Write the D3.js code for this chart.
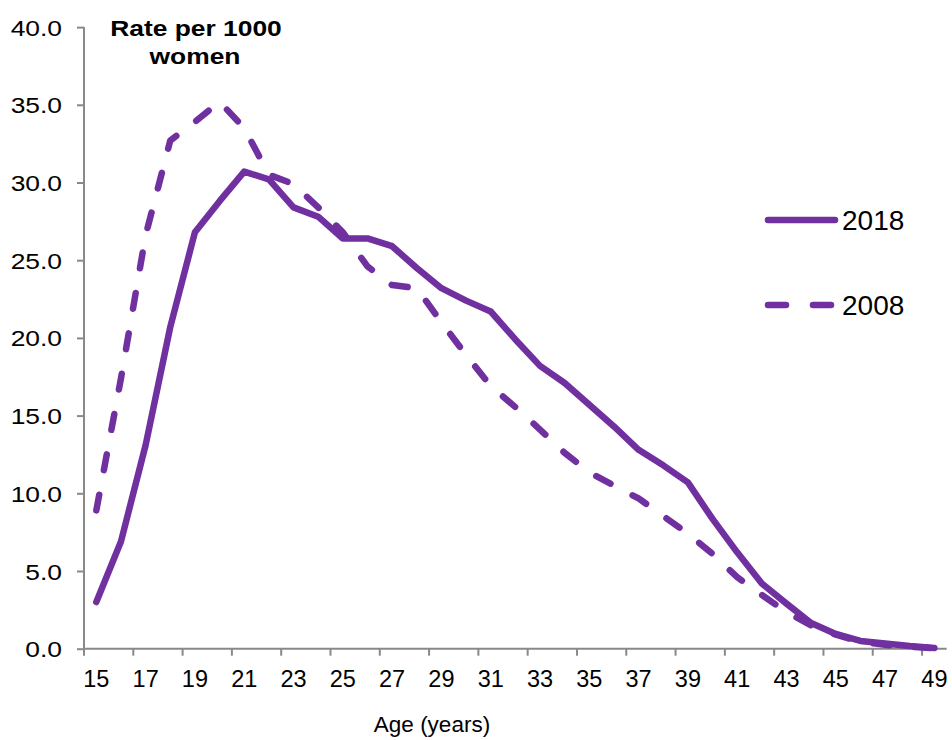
<!DOCTYPE html>
<html>
<head>
<meta charset="utf-8">
<script src="https://cdn.jsdelivr.net/npm/d3@7"></script>
<style>
  html, body { margin: 0; padding: 0; background: #fff; }
  svg { display: block; }
  text { font-family: "Liberation Sans", Arial, sans-serif; fill: #000; }
</style>
</head>
<body>
<svg id="chart" width="952" height="740"></svg>
<script>
const ages = [15,16,17,18,19,20,21,22,23,24,25,26,27,28,29,30,31,32,33,34,35,36,37,38,39,40,41,42,43,44,45,46,47,48,49];
const rate2018 = [3.0,6.9,13.1,20.7,26.8,28.8,30.7,30.2,28.4,27.8,26.4,26.4,25.9,24.5,23.2,22.4,21.7,19.9,18.2,17.1,15.7,14.3,12.8,11.8,10.7,8.35,6.2,4.2,2.9,1.65,0.95,0.5,0.33,0.17,0.05];
const rate2008 = [8.9,17.4,26.6,32.7,33.9,35.2,33.5,30.5,29.9,28.4,26.8,24.6,23.4,23.2,21.0,18.9,16.9,15.55,14.1,12.6,11.35,10.5,9.67,8.54,7.41,6.1,4.6,3.46,2.36,1.5,0.9,0.45,0.25,0.12,0.04];
const xTickLabels = [15,17,19,21,23,25,27,29,31,33,35,37,39,41,43,45,47,49];
const yTicks = [0,5,10,15,20,25,30,35,40];
const seriesNames = ["2018","2008"];
const yTitle = ["Rate per 1000","women"];
const xTitle = "Age (years)";

const purple = "#7030A0";
const axisGrey = "#898989";

const svg = d3.select("#chart");
const pLeft = 84, pRight = 946.7, pTop = 27.1, pBottom = 648.7;

const x = d3.scaleBand().domain(ages).range([pLeft, pRight]).padding(0);
const y = d3.scaleLinear().domain([0, 40]).range([pBottom, pTop]);
const cx = d => x(d) + x.bandwidth() / 2;

// Y axis
const yAxis = svg.append("g")
  .attr("transform", `translate(${pLeft},0)`)
  .call(d3.axisLeft(y).tickValues(yTicks).tickFormat(d3.format(".1f")).tickSize(7).tickPadding(0));
yAxis.select(".domain").attr("stroke", axisGrey).attr("stroke-width", 2).attr("d", `M0,${pTop}V${pBottom}`);
yAxis.selectAll(".tick line").attr("stroke", axisGrey).attr("stroke-width", 2);
yAxis.selectAll(".tick text")
  .attr("x", null).attr("dy", null)
  .attr("text-anchor", "end")
  .style("font-size", "22px")
  .attr("transform", "translate(-22,8) scale(1.2,1)");

// X axis
const xAxis = svg.append("g")
  .attr("transform", `translate(0,${pBottom})`)
  .call(d3.axisBottom(x).tickValues(xTickLabels).tickSize(7).tickPadding(0));
xAxis.select(".domain").attr("stroke", axisGrey).attr("stroke-width", 2).attr("d", `M${pLeft},0H${pRight}`);
xAxis.selectAll(".tick line").attr("stroke", axisGrey).attr("stroke-width", 2)
  .attr("x1", -x.bandwidth() / 2).attr("x2", -x.bandwidth() / 2);
xAxis.selectAll(".tick text")
  .attr("y", 38).attr("dy", null)
  .style("font-size", "23.5px");

// Lines
const line = d3.line().x((d, i) => cx(ages[i])).y(d => y(d));
svg.append("path").datum(rate2008)
  .attr("d", line).attr("fill", "none").attr("stroke", purple)
  .attr("stroke-width", 6.5).attr("stroke-linecap", "round").attr("stroke-linejoin", "round")
  .attr("stroke-dasharray", "16,25");
svg.append("path").datum(rate2018)
  .attr("d", line).attr("fill", "none").attr("stroke", purple)
  .attr("stroke-width", 6.5).attr("stroke-linecap", "round").attr("stroke-linejoin", "round");

// Y title
svg.append("text").attr("text-anchor", "middle")
  .attr("transform", "translate(196,36) scale(1.2,1)")
  .style("font-size", "22px").style("font-weight", "bold").text(yTitle[0]);
svg.append("text").attr("text-anchor", "middle")
  .attr("transform", "translate(195,64) scale(1.2,1)")
  .style("font-size", "22px").style("font-weight", "bold").text(yTitle[1]);

// X title
svg.append("text").attr("x", 432).attr("y", 732).attr("text-anchor", "middle")
  .style("font-size", "22.5px").text(xTitle);

// Legend
const legend = svg.append("g");
legend.append("line").attr("x1", 768).attr("x2", 835).attr("y1", 220).attr("y2", 220)
  .attr("stroke", purple).attr("stroke-width", 6.5).attr("stroke-linecap", "round");
legend.append("text").attr("x", 842).attr("y", 229.5).style("font-size", "28px").text(seriesNames[0]);
legend.append("line").attr("x1", 768).attr("x2", 835).attr("y1", 305).attr("y2", 305)
  .attr("stroke", purple).attr("stroke-width", 6.5).attr("stroke-linecap", "round")
  .attr("stroke-dasharray", "18,27");
legend.append("text").attr("x", 842).attr("y", 314.5).style("font-size", "28px").text(seriesNames[1]);
</script>
</body>
</html>
